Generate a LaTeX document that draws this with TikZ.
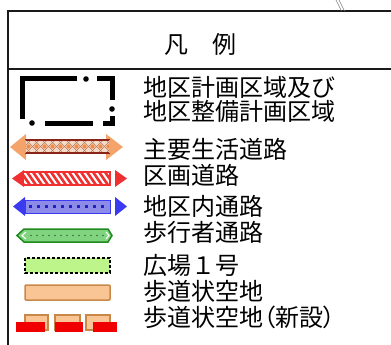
\documentclass[tikz,border=0pt]{standalone}
\usepackage{fontspec}
\newfontfamily\jp{Noto Sans CJK JP}
\newfontfamily\jpp[RawFeature=+palt]{Noto Sans CJK JP}
\definecolor{frameC}{HTML}{1A1A1A}
\definecolor{orA}{HTML}{F4A46A}
\definecolor{orLight}{HTML}{F6DCC8}
\definecolor{orLine}{HTML}{B87858}
\definecolor{orDot}{HTML}{F08A48}
\definecolor{orDark}{HTML}{8B2418}
\definecolor{redA}{HTML}{F03030}
\definecolor{blueA}{HTML}{3A3AF0}
\definecolor{blueB}{HTML}{8C8CE8}
\definecolor{blueDot}{HTML}{2020C0}
\definecolor{greenA}{HTML}{80D480}
\definecolor{greenD}{HTML}{1E8A1E}
\definecolor{greenDot}{HTML}{3C6E3C}
\definecolor{limeA}{HTML}{BDF58A}
\definecolor{peach}{HTML}{FAC595}
\definecolor{peachD}{HTML}{C8884A}
\definecolor{redB}{HTML}{F00000}
\begin{document}
\begin{tikzpicture}[x=1pt,y=-1pt,
  lbl/.style={font=\jp\fontsize{24}{24}\selectfont, anchor=base west, inner sep=0pt, text=black},
  frame/.style={draw=frameC, line width=1.5pt},
  bnd/.style={draw=black, line width=5pt, line cap=butt, line join=miter},
  bdot/.style={fill=black}]
\useasboundingbox (0,0) rectangle (391,345);
% frame
\draw[frame] (391,11) -- (8,11) -- (8,345);
\draw[frame] (8,69) -- (391,69);
\draw[gray, line width=0.6pt] (336,0) -- (341.5,11);
\draw[gray, line width=0.6pt] (339,0) -- (344.5,11);
% title
\node[lbl, anchor=base] (title) at (200,54) {凡　例};
% boundary symbol
\draw[bnd] (77,79) -- (22,79) -- (22,119);
\fill[bdot] (86,79) circle (2.8);
\draw[bnd] (97,79) -- (112,79) -- (112,100);
\fill[bdot] (112,109) circle (2.8);
\draw[bnd] (112,116) -- (112,123) -- (103,123);
\draw[bnd] (45,123) -- (93,123);
\fill[bdot] (32,123) circle (2.8);
% orange double arrow
\fill[orA] (10,147) -- (26,134) -- (26,141) -- (106,141) -- (106,134) -- (123,147)
  -- (106,160) -- (106,153) -- (26,153) -- (26,160) -- cycle;
\fill[orLight] (25,140) rectangle (110,153);
\begin{scope}
  \clip (25,140) rectangle (110,153);
  \foreach \a in {10,18,...,114} {
    \draw[orLine, line width=0.6pt] (\a,153) -- (\a+13,140);
    \draw[orLine, line width=0.6pt] (\a,140) -- (\a+13,153);
    \fill[orDot] (\a+10.5,146.5) circle (2.2);
  }
\end{scope}
\draw[orDark, line width=2pt] (25,140) -- (110,140);
\draw[orDark, line width=2pt] (25,153) -- (110,153);
\draw[orA, line width=2pt] (25,140) -- (25,153);
\draw[orA, line width=2pt] (110,140) -- (110,153);
% red arrow
\fill[redA] (12,178.5) -- (24,170) -- (24,187) -- cycle;
\fill[redA] (23,172) rectangle (110,185);
\begin{scope}
  \clip (24,173) rectangle (109,184);
  \foreach \a in {12,18,...,112} {
    \draw[white, line width=2pt] (\a,172) -- (\a+9,185);
  }
\end{scope}
\draw[redA, line width=1.2pt] (23,172) rectangle (110,185);
\fill[redA] (115,170) -- (127,178.5) -- (115,187) -- cycle;
% blue arrow
\fill[blueA] (13,206.5) -- (25,197) -- (25,216) -- cycle;
\fill[blueB] (25,200) rectangle (110,213);
\draw[blueA, line width=0.8pt] (25,200) rectangle (110,213);
\foreach \a in {30,38,...,106} {
  \fill[blueDot] (\a-1.5,205) rectangle (\a+1.5,208);
}
\fill[blueA] (115,197) -- (127,206.5) -- (115,216) -- cycle;
% green arrow
\filldraw[fill=greenA, draw=greenD, line width=1.5pt]
  (17,235.5) -- (24,229) -- (108,229) -- (112,235.5) -- (108,242) -- (24,242) -- cycle;
\draw[white, line width=1pt] (26,232) -- (22,235.5) -- (26,239);
\draw[white, line width=1pt] (106,232) -- (109,235.5) -- (106,239);
\foreach \a in {31,37,...,103} {
  \fill[greenDot] (\a,235.5) circle (0.9);
}
% plaza
\filldraw[fill=limeA, draw=black, line width=1.2pt, dash pattern=on 3pt off 2pt]
  (25,258) rectangle (110,273);
% sidewalk space
\filldraw[fill=peach, draw=peachD, line width=1.5pt, rounded corners=1pt]
  (25,285) rectangle (110,300);
% sidewalk space (new)
\filldraw[fill=peach, draw=peachD, line width=1.2pt] (25,315) rectangle (48,330);
\filldraw[fill=peach, draw=peachD, line width=1.2pt] (55,315) rectangle (80,330);
\filldraw[fill=peach, draw=peachD, line width=1.2pt] (86,315) rectangle (110,330);
\fill[redB] (16,322) rectangle (45,332);
\fill[redB] (55,322) rectangle (83,332);
\fill[redB] (93,322) rectangle (117,332);
% labels
\node[lbl] (t1) at (143,96) {地区計画区域及び};
\node[lbl] (t2) at (143,120) {地区整備計画区域};
\node[lbl] (t3) at (143,158) {主要生活道路};
\node[lbl] (t4) at (143,184) {区画道路};
\node[lbl] (t5) at (143,215) {地区内通路};
\node[lbl] (t6) at (143,241) {歩行者通路};
\node[lbl] (t7) at (143,274) {広場１号};
\node[lbl] (t8) at (143,300) {歩道状空地};
\node[lbl] (t9) at (143,326) {歩道状空地{\jpp\fontsize{24}{24}\selectfont （新設）}};
\end{tikzpicture}
\end{document}
